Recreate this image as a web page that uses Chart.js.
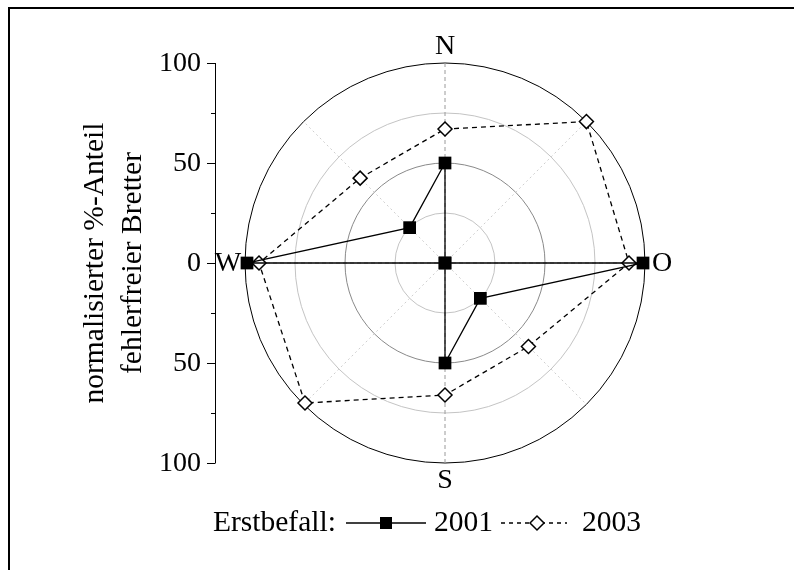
<!DOCTYPE html>
<html>
<head>
<meta charset="utf-8">
<script src="https://cdn.jsdelivr.net/npm/chart.js@4/dist/chart.umd.min.js"></script>
<style>
  html, body { margin: 0; padding: 0; background: #fff; }
  #wrap { width: 794px; height: 570px; position: relative; }
</style>
</head>
<body>
<div id="wrap"><canvas id="c" width="794" height="570"></canvas></div>
<script>
// Himmelsrichtungen (im Uhrzeigersinn ab Norden)
const directions = ['N', 'NO', 'O', 'SO', 'S', 'SW', 'W', 'NW'];
const directionLabels = ['N', '', 'O', '', 'S', '', 'W', ''];

// normalisierter %-Anteil fehlerfreier Bretter je Richtung
const values2001 = [50, 0, 99, 25, 50, 0, 99, 25];
const values2003 = [67, 100, 92, 59, 66, 99, 93, 60];

// linke Achse: Werte oberhalb (+) und unterhalb (-) des Mittelpunkts
const axisTickValues = [100, 50, 0, -50, -100];
const axisTickLabels = ['100', '50', '0', '50', '100'];
const axisMinorValues = [75, 25, -25, -75];

const titleLines = ['normalisierter %-Anteil', 'fehlerfreier Bretter'];
const legendCaption = 'Erstbefall:';
const seriesNames = ['2001', '2003'];

const FAMILY = '"Liberation Serif", "Times New Roman", serif';
const FONT = '28px ' + FAMILY;
const TEXT_FONT = '29.5px ' + FAMILY;

const circleColors = { 25: '#c4c4c4', 50: '#8a8a8a', 75: '#c4c4c4', 100: '#000000' };

const overlay = {
  id: 'overlay',
  beforeDraw(chart) {
    const ctx = chart.ctx;
    ctx.save();
    ctx.fillStyle = '#fff';
    ctx.fillRect(0, 0, chart.width, chart.height);
    // Rahmen (links und oben)
    ctx.strokeStyle = '#000';
    ctx.lineWidth = 2;
    ctx.beginPath();
    ctx.moveTo(9, chart.height);
    ctx.lineTo(9, 8);
    ctx.lineTo(chart.width, 8);
    ctx.stroke();
    ctx.restore();
  },
  afterDraw(chart) {
    const ctx = chart.ctx;
    const r = chart.scales.r;
    const cx = r.xCenter, cy = r.yCenter;
    ctx.save();
    ctx.fillStyle = '#000';
    ctx.strokeStyle = '#000';
    ctx.font = FONT;

    // Richtungsbeschriftungen
    ctx.textAlign = 'center';
    ctx.textBaseline = 'middle';
    const outer = r.getDistanceFromCenterForValue(100);
    directionLabels.forEach((t, i) => {
      if (!t) return;
      const p = r.getPointPosition(i, outer + 17);
      ctx.fillText(t, p.x, p.y + 1);
    });

    // linke Werteachse
    const axX = 215;
    const yFor = v => cy - Math.sign(v) * r.getDistanceFromCenterForValue(Math.abs(v));
    ctx.lineWidth = 1;
    ctx.beginPath();
    ctx.moveTo(axX + 0.5, yFor(100));
    ctx.lineTo(axX + 0.5, yFor(-100));
    axisTickValues.forEach(v => {
      const y = Math.round(yFor(v)) + 0.5;
      ctx.moveTo(axX - 8, y);
      ctx.lineTo(axX + 0.5, y);
    });
    axisMinorValues.forEach(v => {
      const y = Math.round(yFor(v)) + 0.5;
      ctx.moveTo(axX - 4, y);
      ctx.lineTo(axX + 0.5, y);
    });
    ctx.stroke();
    ctx.textAlign = 'right';
    axisTickValues.forEach((v, i) => {
      ctx.fillText(axisTickLabels[i], axX - 14, yFor(v) + 1);
    });

    // Achsentitel
    ctx.font = TEXT_FONT;
    ctx.save();
    ctx.translate(95, cy);
    ctx.rotate(-Math.PI / 2);
    ctx.textAlign = 'center';
    ctx.fillText(titleLines[0], 0, 0);
    ctx.fillText(titleLines[1], 0, 38);
    ctx.restore();

    // Legende
    const ly = 523;
    ctx.textAlign = 'left';
    ctx.fillText(legendCaption, 213, ly);
    // 2001: durchgezogen mit Quadrat
    ctx.lineWidth = 1.3;
    ctx.setLineDash([]);
    ctx.beginPath();
    ctx.moveTo(346, ly); ctx.lineTo(426, ly);
    ctx.stroke();
    ctx.fillRect(386 - 6, ly - 6, 12, 12);
    ctx.fillText(seriesNames[0], 434, ly);
    // 2003: gestrichelt mit Raute
    ctx.setLineDash([4, 4]);
    ctx.beginPath();
    ctx.moveTo(501, ly); ctx.lineTo(567, ly);
    ctx.stroke();
    ctx.setLineDash([]);
    ctx.fillStyle = '#fff';
    ctx.lineWidth = 1.5;
    Chart.helpers.drawPoint(ctx, { pointStyle: 'rectRot', radius: 7, borderWidth: 1.5 }, 537, ly);
    ctx.fillStyle = '#000';
    ctx.fillText(seriesNames[1], 582, ly);
    ctx.restore();
  }
};

new Chart(document.getElementById('c'), {
  type: 'radar',
  data: {
    labels: directions,
    datasets: [
      {
        label: seriesNames[0],
        data: values2001,
        borderColor: '#000',
        borderWidth: 1.3,
        backgroundColor: '#000',
        pointStyle: 'rect',
        pointRadius: 9,
        pointHoverRadius: 9,
        pointBackgroundColor: '#000',
        pointBorderColor: '#000',
        pointBorderWidth: 0,
        fill: false,
        tension: 0
      },
      {
        label: seriesNames[1],
        data: values2003,
        borderColor: '#000',
        borderWidth: 1.3,
        borderDash: [5, 4],
        backgroundColor: '#fff',
        pointStyle: 'rectRot',
        pointRadius: 7,
        pointHoverRadius: 7,
        pointBackgroundColor: '#fff',
        pointBorderColor: '#000',
        pointBorderWidth: 1.5,
        fill: false,
        tension: 0
      }
    ]
  },
  options: {
    responsive: false,
    animation: false,
    events: [],
    layout: { padding: { left: 245, right: 149, top: 63, bottom: 107 } },
    plugins: { legend: { display: false }, tooltip: { enabled: false }, title: { display: false } },
    scales: {
      r: {
        min: 0,
        max: 100,
        ticks: { display: false, stepSize: 25 },
        pointLabels: { display: false },
        grid: {
          circular: true,
          lineWidth: 1,
          color: ctx => circleColors[ctx.tick ? ctx.tick.value : 0] || '#c4c4c4'
        },
        angleLines: {
          display: true,
          lineWidth: 1,
          color: ctx => (ctx.index % 2 === 0 ? '#9a9a9a' : '#cfcfcf'),
          borderDash: ctx => (ctx.index % 2 === 0 ? [4, 3] : [2, 3])
        }
      }
    }
  },
  plugins: [overlay]
});
</script>
</body>
</html>
